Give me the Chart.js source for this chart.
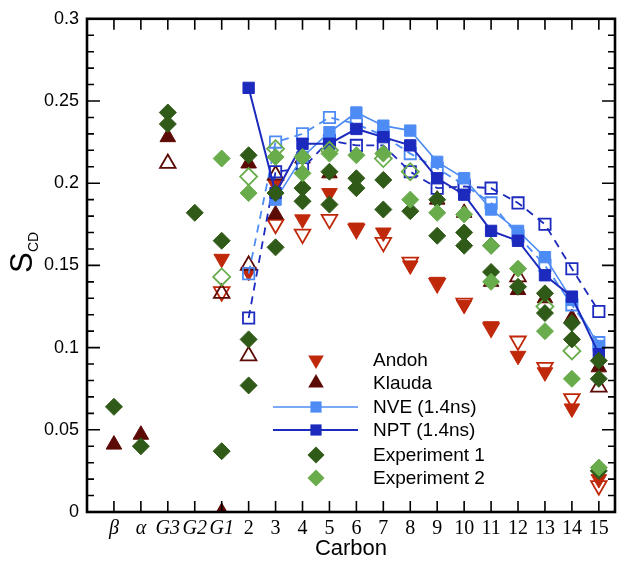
<!DOCTYPE html>
<html>
<head>
<meta charset="utf-8">
<script src="https://cdn.jsdelivr.net/npm/chart.js@4"></script>
<style>
  html, body { margin: 0; padding: 0; background: #fff; }
  #wrap { width: 629px; height: 563px; }
</style>
</head>
<body>
<div id="wrap"><canvas id="grafico"></canvas></div>
<script>
// Categorías del eje x (posición 1..19)
const carbonos = ['β', 'α', 'G3', 'G2', 'G1', '2', '3', '4', '5', '6', '7', '8', '9', '10', '11', '12', '13', '14', '15'];
const yTicks = [0, 0.05, 0.1, 0.15, 0.2, 0.25, 0.3];

// Series con un valor por categoría (null = sin dato)
const andohLleno = [null, null, null, null, 0.154, 0.146, 0.199, 0.178, 0.194, 0.173, 0.170, 0.150, 0.140, 0.126, 0.113, 0.095, 0.085, 0.063, 0.020];
const andohHueco = [null, null, null, null, 0.134, null, 0.175, 0.169, 0.178, 0.172, 0.164, 0.152, 0.139, 0.127, 0.112, 0.104, 0.088, 0.069, 0.016];
const klaudaLleno = [0.041, 0.047, 0.228, null, 0.000, 0.212, 0.181, 0.215, 0.206, null, null, null, 0.190, 0.182, 0.140, 0.135, 0.130, 0.118, 0.088];
const nveLleno = [null, null, null, null, null, null, 0.190, 0.216, 0.231, 0.243, 0.235, 0.232, 0.213, 0.203, 0.184, 0.171, 0.155, 0.129, 0.101];
const nveHueco = [null, null, null, null, null, 0.145, 0.225, 0.230, 0.240, 0.236, 0.229, 0.218, 0.209, 0.199, 0.188, 0.168, 0.150, 0.126, 0.103];
const nptLleno = [null, null, null, null, null, 0.258, 0.194, 0.224, 0.224, 0.233, 0.228, 0.223, 0.203, 0.193, 0.171, 0.165, 0.144, 0.131, 0.096];
const nptHueco = [null, null, null, null, null, 0.118, 0.207, 0.209, 0.226, 0.223, 0.223, 0.207, 0.197, 0.198, 0.197, 0.188, 0.175, 0.148, 0.122];

// Series con varios valores por categoría (categoría, valor)
const klaudaHuecoCat = ['G3', 'G1', '2', '2', '3', '12', '15'];
const klaudaHuecoVal = [0.212, 0.133, 0.150, 0.095, 0.205, 0.143, 0.076];

const exp1Cat = ['β', 'α', 'G3', 'G3', 'G2', 'G1', 'G1', '2', '2', '2', '3', '3', '4', '4', '5', '5', '6', '6', '7', '7',
  '8', '9', '9', '10', '10', '11', '11', '12', '13', '13', '14', '14', '15', '15', '15'];
const exp1Val = [0.064, 0.040, 0.243, 0.236, 0.182, 0.165, 0.037, 0.217, 0.105, 0.077, 0.194, 0.161, 0.197, 0.189, 0.207, 0.187, 0.203, 0.197, 0.202, 0.184,
  0.183, 0.190, 0.168, 0.170, 0.162, 0.162, 0.146, 0.137, 0.133, 0.121, 0.115, 0.105, 0.092, 0.081, 0.025];

const exp2Cat = ['G1', '2', '3', '4', '4', '5', '6', '7', '8', '9', '10', '11', '11', '12', '13', '14', '15'];
const exp2Val = [0.215, 0.194, 0.216, 0.216, 0.206, 0.218, 0.217, 0.218, 0.190, 0.182, 0.181, 0.162, 0.140, 0.148, 0.110, 0.081, 0.027];

const exp2HuecoCat = ['G1', '2', '3', '5', '7', '8', '13', '14'];
const exp2HuecoVal = [0.143, 0.204, 0.221, 0.220, 0.215, 0.207, 0.125, 0.098];

// Colores
const ROJO = 'rgb(192,40,10)';
const GRANATE = 'rgb(92,10,5)';
const AZUL_CLARO = 'rgb(78,140,245)';
const AZUL = 'rgb(28,42,190)';
const VERDE_OSC = 'rgb(48,90,24)';
const VERDE_CLARO = 'rgb(104,172,76)';

const porIndice = (vals) => vals.map((v, i) => (v === null ? null : { x: i + 1, y: v })).filter(p => p);
const porCategoria = (cats, vals) => cats.map((c, i) => ({ x: carbonos.indexOf(c) + 1, y: vals[i] }));

function marcador(data, color, estilo, radio, hueco, extra) {
  return Object.assign({
    data: data,
    showLine: false,
    pointStyle: estilo,
    pointRadius: radio,
    pointHoverRadius: radio,
    pointBackgroundColor: hueco ? 'rgba(0,0,0,0)' : color,
    pointBorderColor: color,
    pointBorderWidth: hueco ? 1.8 : 1,
    borderColor: color,
    backgroundColor: color
  }, extra || {});
}

const datasets = [
  marcador(porCategoria(exp2Cat, exp2Val), VERDE_CLARO, 'rectRot', 8.5, false),
  marcador(porCategoria(exp1Cat, exp1Val), VERDE_OSC, 'rectRot', 8.5, false),
  marcador(porCategoria(exp2HuecoCat, exp2HuecoVal), VERDE_CLARO, 'rectRot', 8.5, true),
  marcador(porIndice(nptLleno), AZUL, 'rect', 8, false, { showLine: true, borderWidth: 2 }),
  marcador(porIndice(nveLleno), AZUL_CLARO, 'rect', 8, false, { showLine: true, borderWidth: 1.6 }),
  marcador(porIndice(nptHueco), AZUL, 'rect', 8, true, { showLine: true, borderWidth: 1.8, borderDash: [8, 6] }),
  marcador(porIndice(nveHueco), AZUL_CLARO, 'rect', 8, true, { showLine: true, borderWidth: 1.8, borderDash: [8, 6] }),
  marcador(porIndice(klaudaLleno), GRANATE, 'triangle', 9, false),
  marcador(porCategoria(klaudaHuecoCat, klaudaHuecoVal), GRANATE, 'triangle', 9, true),
  marcador(porIndice(andohLleno), ROJO, 'triangle', 9, false, { pointRotation: 180 }),
  marcador(porIndice(andohHueco), ROJO, 'triangle', 9, true, { pointRotation: 180 })
];

// Leyenda dentro del gráfico
const leyenda = [
  { texto: 'Andoh', color: ROJO, forma: 'down' },
  { texto: 'Klauda', color: GRANATE, forma: 'up' },
  { texto: 'NVE (1.4ns)', color: AZUL_CLARO, forma: 'square', linea: 1.6 },
  { texto: 'NPT (1.4ns)', color: AZUL, forma: 'square', linea: 2 },
  { texto: 'Experiment 1', color: VERDE_OSC, forma: 'diamond' },
  { texto: 'Experiment 2', color: VERDE_CLARO, forma: 'diamond' }
];

function dibujarForma(ctx, forma, x, y) {
  ctx.beginPath();
  if (forma === 'down' || forma === 'up') {
    const r = 9, s = forma === 'down' ? -1 : 1;
    ctx.moveTo(x, y - s * r);
    ctx.lineTo(x + r * Math.sin(2 * Math.PI / 3), y + s * r / 2);
    ctx.lineTo(x - r * Math.sin(2 * Math.PI / 3), y + s * r / 2);
  } else if (forma === 'square') {
    ctx.rect(x - 5.6, y - 5.6, 11.2, 11.2);
  } else {
    ctx.moveTo(x - 8.5, y); ctx.lineTo(x, y - 8.5); ctx.lineTo(x + 8.5, y); ctx.lineTo(x, y + 8.5);
  }
  ctx.closePath();
  ctx.fill();
}

const marcoPlugin = {
  id: 'marco',
  afterDatasetsDraw(chart) {
    const { ctx, chartArea: a, scales } = chart;
    ctx.save();
    ctx.strokeStyle = '#000';
    // ticks hacia dentro
    ctx.lineWidth = 1.6;
    ctx.beginPath();
    carbonos.forEach((c, i) => {
      const px = scales.x.getPixelForValue(i + 1);
      ctx.moveTo(px, a.bottom); ctx.lineTo(px, a.bottom - 11);
      ctx.moveTo(px, a.top); ctx.lineTo(px, a.top + 11);
    });
    for (let k = 0; k <= 30; k++) {
      const py = scales.y.getPixelForValue(k / 100);
      const largo = k % 5 === 0 ? 13 : 7;
      ctx.moveTo(a.left, py); ctx.lineTo(a.left + largo, py);
      ctx.moveTo(a.right, py); ctx.lineTo(a.right - largo, py);
    }
    ctx.stroke();
    ctx.lineWidth = 2.6;
    ctx.strokeRect(a.left, a.top, a.right - a.left, a.bottom - a.top);

    // leyenda
    ctx.font = '19px "Liberation Sans", Arial, sans-serif';
    ctx.textBaseline = 'middle';
    const filas = [360, 383, 407, 430, 455, 478];
    leyenda.forEach((it, i) => {
      const y = filas[i];
      if (it.linea) {
        ctx.strokeStyle = it.color;
        ctx.lineWidth = it.linea;
        ctx.beginPath(); ctx.moveTo(273, y); ctx.lineTo(358, y); ctx.stroke();
      }
      ctx.fillStyle = it.color;
      dibujarForma(ctx, it.forma, 316, y);
      ctx.fillStyle = '#000';
      ctx.fillText(it.texto, 373, y + 1);
    });

    // título del eje y: S con subíndice CD
    ctx.translate(32, 273);
    ctx.rotate(-Math.PI / 2);
    ctx.fillStyle = '#000';
    ctx.textBaseline = 'alphabetic';
    ctx.font = '31px "Liberation Sans", Arial, sans-serif';
    ctx.fillText('S', 0, 0);
    ctx.font = '14px "Liberation Sans", Arial, sans-serif';
    ctx.fillText('CD', 21, 6);
    ctx.restore();
  }
};

new Chart(document.getElementById('grafico'), {
  type: 'scatter',
  data: { datasets: datasets },
  plugins: [marcoPlugin],
  options: {
    responsive: true,
    maintainAspectRatio: false,
    animation: false,
    layout: { padding: { top: 18, right: 14, left: 0, bottom: 0 } },
    plugins: { legend: { display: false }, tooltip: { enabled: false } },
    scales: {
      x: {
        type: 'linear',
        min: 0,
        max: 19.6,
        grid: { display: false, drawTicks: false },
        border: { display: false },
        afterBuildTicks: (axis) => { axis.ticks = carbonos.map((c, i) => ({ value: i + 1 })); },
        afterFit: (axis) => { axis.height = 51; },
        ticks: {
          autoSkip: false,
          maxRotation: 0,
          padding: 5,
          color: '#000',
          font: (c) => c.index < 5
            ? { family: '"Liberation Serif", "DejaVu Serif", serif', size: 20, style: 'italic' }
            : { family: '"Liberation Serif", "DejaVu Serif", serif', size: 20 },
          callback: (v) => carbonos[v - 1]
        },
        title: {
          display: true,
          text: 'Carbon',
          color: '#000',
          font: { family: '"Liberation Sans", Arial, sans-serif', size: 22 },
          padding: { top: 0, bottom: 1 }
        }
      },
      y: {
        min: 0,
        max: 0.3,
        grid: { display: false, drawTicks: false },
        border: { display: false },
        afterBuildTicks: (axis) => { axis.ticks = yTicks.map(v => ({ value: v })); },
        afterFit: (axis) => { axis.width = 87; },
        ticks: {
          padding: 8,
          color: '#000',
          font: { family: '"Liberation Sans", Arial, sans-serif', size: 18 },
          callback: (v) => String(+v.toFixed(2))
        }
      }
    }
  }
});
</script>
</body>
</html>
